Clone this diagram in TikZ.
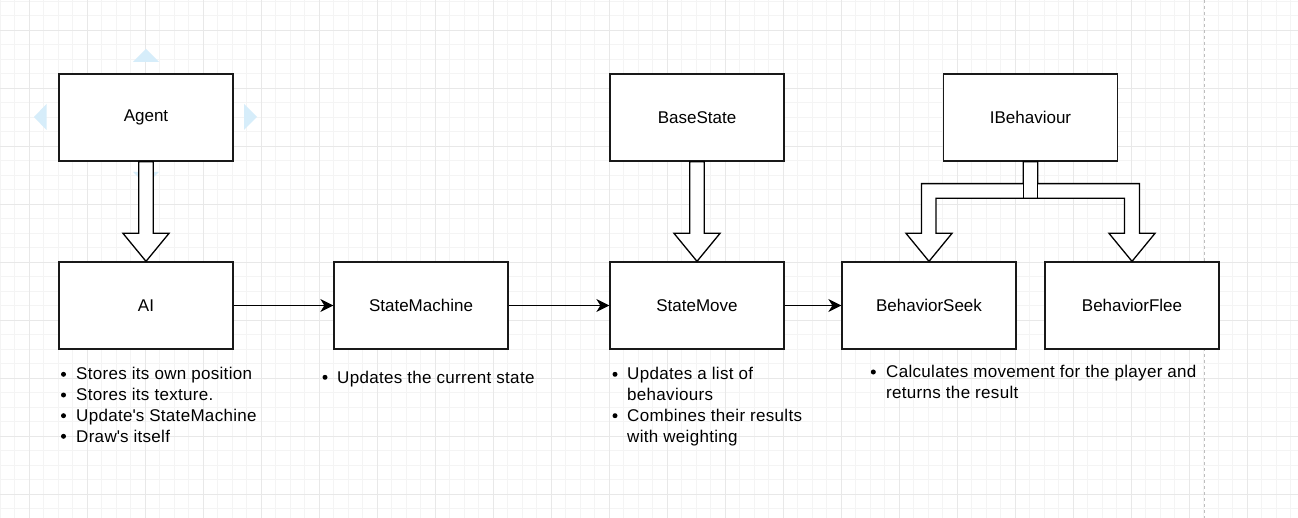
\documentclass[tikz,border=0pt]{standalone}
\usepackage{fontspec}
\setmainfont{Liberation Sans}
\usetikzlibrary{calc,arrows.meta}
\definecolor{minorgrid}{RGB}{244,244,244}
\definecolor{majorgrid}{RGB}{232,232,232}
\definecolor{hoverblue}{RGB}{214,237,250}
\definecolor{pagedash}{RGB}{190,190,190}
\tikzset{
  box/.style={draw=black!90, line width=1.3pt, fill=white, minimum width=174pt, minimum height=87pt, inner sep=0pt, font=\fontsize{17}{20.5}\selectfont},
  blk/.style={draw=black, line width=1.3pt, fill=white, line join=miter},
  conn/.style={draw=black, line width=1.4pt, -{Stealth[length=13pt,width=13pt,inset=4pt]}},
  itemtxt/.style={anchor=base west, inner sep=0pt, font=\fontsize{17}{20.5}\selectfont\addfontfeature{LetterSpace=1.8}},
  bul/.style={circle, fill=black, draw=none, inner sep=0pt, minimum size=5pt},
  hover/.style={fill=hoverblue, draw=none}
}
\begin{document}
\begin{tikzpicture}[x=1pt,y=-1pt]
\useasboundingbox (0,0) rectangle (1298,518);
\fill[white] (0,0) rectangle (1298,518);
% grid
\foreach \i in {0,...,90} {
  \pgfmathsetmacro{\xx}{14.5*\i}
  \draw[minorgrid, line width=0.8pt] (\xx,0) -- (\xx,518);
}
\foreach \i in {0,...,36} {
  \pgfmathsetmacro{\yy}{1+14.5*\i}
  \draw[minorgrid, line width=0.8pt] (0,\yy) -- (1298,\yy);
}
\foreach \i in {0,...,22} {
  \pgfmathsetmacro{\xx}{29+58*\i}
  \draw[majorgrid, line width=0.8pt] (\xx,0) -- (\xx,518);
}
\foreach \i in {0,...,8} {
  \pgfmathsetmacro{\yy}{30+58*\i}
  \draw[majorgrid, line width=0.8pt] (0,\yy) -- (1298,\yy);
}
\draw[pagedash, line width=0.8pt, dash pattern=on 3pt off 3pt] (1204,0) -- (1204,518);

% hover arrows around Agent
\fill[hover] (133,62) -- (146,49) -- (159,62) -- cycle;
\fill[hover] (46.5,104) -- (34,117) -- (46.5,130) -- cycle;
\fill[hover] (244,104) -- (257,117) -- (244,130) -- cycle;
\fill[hover] (133,172) -- (146,185) -- (159,172) -- cycle;

% boxes
\node[box] (agent) at (146,117.5) {Agent};
\node[box] (ai) at (146,305.5) {AI};
\node[box] (sm) at (421,305.5) {StateMachine};
\node[box] (base) at (697,117.5) {BaseState};
\node[box] (move) at (697,305.5) {StateMove};
\node[box] (ib) at (1030.5,117.5) {IBehaviour};
\node[box] (seek) at (929,305.5) {BehaviorSeek};
\node[box] (flee) at (1132,305.5) {BehaviorFlee};

% block arrow Agent -> AI
\draw[blk] ($(agent.south)+(-7.2,0)$) -- ($(ai.north)+(-7.2,-28)$) -- ($(ai.north)+(-23,-28)$) -- (ai.north) -- ($(ai.north)+(23,-28)$) -- ($(ai.north)+(7.2,-28)$) -- ($(agent.south)+(7.2,0)$) -- cycle;
% block arrow BaseState -> StateMove
\draw[blk] ($(base.south)+(-7.2,0)$) -- ($(move.north)+(-7.2,-28)$) -- ($(move.north)+(-23,-28)$) -- (move.north) -- ($(move.north)+(23,-28)$) -- ($(move.north)+(7.2,-28)$) -- ($(base.south)+(7.2,0)$) -- cycle;

% split block arrow IBehaviour -> Seek, Flee
\coordinate (s1) at ($(ib.south)+(0,22)$);
\coordinate (s2) at ($(ib.south)+(0,36.7)$);
\coordinate (sl) at ($(seek.north)+(-7.5,-28)$);
\coordinate (sr) at ($(seek.north)+(7,-28)$);
\coordinate (fl) at ($(flee.north)+(-7.5,-28)$);
\coordinate (fr) at ($(flee.north)+(7.5,-28)$);
\draw[blk] ($(ib.south)+(-7.2,0)$) -- ($(ib.south)+(-7.2,22)$) -- (sl |- s1) -- (sl) -- ($(seek.north)+(-23,-28)$) -- (seek.north) -- ($(seek.north)+(23,-28)$) -- (sr) -- (sr |- s2) -- (fl |- s2) -- (fl) -- ($(flee.north)+(-23,-28)$) -- (flee.north) -- ($(flee.north)+(23,-28)$) -- (fr) -- (fr |- s1) -- ($(ib.south)+(7.2,22)$) -- ($(ib.south)+(7.2,0)$) -- cycle;
\draw[blk, fill=none] ($(ib.south)+(-7.2,0)$) rectangle ($(ib.south)+(7.2,36.7)$);

% connectors
\draw[conn] (ai.east) -- (sm.west);
\draw[conn] (sm.east) -- (move.west);
\draw[conn] (move.east) -- (seek.west);

% list under AI
\node[bul] (b1) at (63.5,374.3) {};
\node[itemtxt] (t1) at (76,380) {Stores its own position};
\node[bul] (b2) at (63.5,395) {};
\node[itemtxt] (t2) at (76,400.7) {Stores its texture.};
\node[bul] (b3) at (63.5,415.7) {};
\node[itemtxt] (t3) at (76,421.4) {Update\textquotesingle s StateMachine};
\node[bul] (b4) at (63.5,436.3) {};
\node[itemtxt] (t4) at (76,442) {Draw\textquotesingle s itself};

% list under StateMachine
\node[bul] (b5) at (325,377.3) {};
\node[itemtxt] (t5) at (337,383) {Updates the current state};

% list under StateMove
\node[bul] (b6) at (615,374.3) {};
\node[itemtxt] (t6) at (627,380) {Updates a list of};
\node[itemtxt] (t6b) at (627,400.7) {behaviours};
\node[bul] (b7) at (615,415.7) {};
\node[itemtxt] (t7) at (627,421.4) {Combines their results};
\node[itemtxt] (t7b) at (627,442) {with weighting};

% list under BehaviorSeek
\node[bul] (b8) at (873.3,372) {};
\node[itemtxt] (t8) at (886,377.7) {Calculates movement for the player and};
\node[itemtxt] (t8b) at (886,398.4) {returns the result};
\end{tikzpicture}
\end{document}
